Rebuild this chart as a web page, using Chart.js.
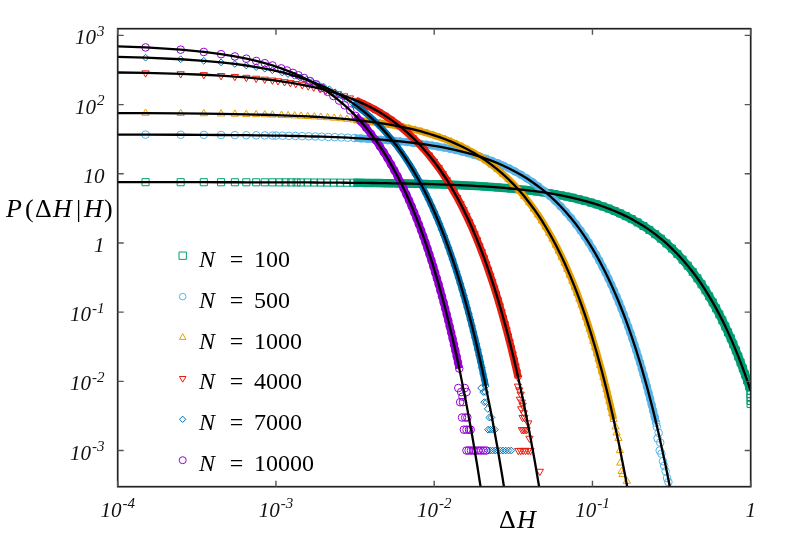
<!DOCTYPE html>
<html>
<head>
<meta charset="utf-8">
<title>P(ΔH|H)</title>
<script src="https://cdn.jsdelivr.net/npm/chart.js@4.4.0/dist/chart.umd.min.js"></script>
<style>
  html, body { margin: 0; padding: 0; background: #fff; overflow: hidden; }
  canvas { display: block; }
</style>
</head>
<body>
<canvas id="chart" width="803" height="540"></canvas>
<script>
// =====================================================
// DATA
// =====================================================
const sizes = [100, 500, 1000, 4000, 7000, 10000];

// N = 100
const dH100 = [1.5e-4, 2.5e-4, 3.5e-4, 4.5e-4, 5.5e-4, 6.5e-4, 7.5e-4, 8.5e-4, 9.5e-4, 1.05e-3, 1.15e-3, 1.25e-3, 1.35e-3,
  0.001439, 0.001583, 0.001741, 0.001914, 0.002101, 0.002317, 0.002547, 0.002806, 0.003079, 0.003396,
  0.003727, 0.004101, 0.004518, 0.004964, 0.005468, 0.006014, 0.006604, 0.007266, 0.008000, 0.008806,
  0.009684, 0.01065, 0.01171, 0.01288, 0.01417, 0.01554, 0.01712, 0.01885, 0.02072, 0.02288,
  0.02518, 0.02763, 0.03036, 0.03338, 0.03669, 0.04043, 0.04446,
  0.04892, 0.05324, 0.05755, 0.06331, 0.06906, 0.07482, 0.08201, 0.08921, 0.09784, 0.1065, 0.1166, 0.1266, 0.1381, 0.1496,
  0.1626, 0.1770, 0.1928, 0.2101, 0.2288, 0.2489, 0.2705, 0.2935, 0.3180, 0.3439, 0.3712, 0.4000, 0.4302, 0.4604,
  0.4892, 0.5180, 0.5468, 0.5755, 0.6043, 0.6331, 0.6619, 0.6906, 0.7194, 0.7482, 0.7770, 0.8058, 0.8345, 0.8633,
  0.8921, 0.9209, 0.9496, 0.9784, 1.0];
const P100 = [7.562, 7.557, 7.552, 7.546, 7.541, 7.536, 7.531, 7.525, 7.520, 7.515, 7.510, 7.504, 7.499,
  7.495, 7.487, 7.479, 7.470, 7.460, 7.449, 7.437, 7.424, 7.410, 7.393,
  7.376, 7.357, 7.336, 7.313, 7.288, 7.260, 7.230, 7.197, 7.161, 7.121,
  7.077, 7.030, 6.978, 6.922, 6.860, 6.795, 6.721, 6.641, 6.555, 6.457,
  6.355, 6.248, 6.130, 6.003, 5.866, 5.716, 5.558,
  5.388, 5.229, 5.074, 4.875, 4.684, 4.501, 4.281, 4.072, 3.835, 3.612, 3.368, 3.140, 2.898, 2.676,
  2.445, 2.213, 1.982, 1.758, 1.544, 1.342, 1.155, 0.984, 0.830, 0.694, 0.574, 0.470, 0.381, 0.309,
  0.253, 0.207, 0.1693, 0.1387, 0.1135, 0.0929, 0.0761, 0.0623, 0.0510, 0.0418, 0.0342, 0.0280, 0.0229, 0.01876,
  0.01536, 0.01258, 0.01030, 0.00843, 0.00727];
const tailDH100 = [0.995, 0.998, 1.0, 0.999];
const tailP100 = [0.0065, 0.0058, 0.0052, 0.0047];
const fitEndDH100 = [];
const fitEndP100 = [];

// N = 500
const dH500 = [1.5e-4, 2.5e-4, 3.5e-4, 4.5e-4, 5.5e-4, 6.5e-4, 7.5e-4, 8.5e-4, 9.5e-4,
  0.001000, 0.001100, 0.001208, 0.001329, 0.001463, 0.001611, 0.001771, 0.001947, 0.002142, 0.002355,
  0.002592, 0.002842, 0.003132, 0.003447, 0.003789, 0.004184, 0.004605, 0.005053, 0.005553, 0.006105,
  0.006711, 0.007395, 0.008132,
  0.008947, 0.009737, 0.01053, 0.01158, 0.01263, 0.01368, 0.01500, 0.01632, 0.01789, 0.01947, 0.02132, 0.02316, 0.02526, 0.02737,
  0.02974, 0.03237, 0.03526, 0.03842, 0.04184, 0.04553, 0.04947, 0.05368, 0.05816, 0.06289, 0.06789, 0.07316, 0.07868, 0.08421,
  0.08947, 0.09474, 0.1000, 0.1053, 0.1105, 0.1158, 0.1211, 0.1263, 0.1316, 0.1368,
  0.1421, 0.1474, 0.1526, 0.1579, 0.1632, 0.1684, 0.1737, 0.1789, 0.1842, 0.1895,
  0.1947, 0.2000, 0.2053, 0.2105, 0.2158, 0.2211, 0.2263, 0.2316, 0.2368, 0.2421, 0.2474, 0.2526];
const P500 = [36.79, 36.65, 36.51, 36.37, 36.23, 36.10, 35.96, 35.82, 35.69,
  35.62, 35.49, 35.34, 35.18, 35.00, 34.80, 34.59, 34.36, 34.11, 33.83,
  33.53, 33.21, 32.85, 32.46, 32.04, 31.56, 31.06, 30.54, 29.96, 29.34,
  28.67, 27.94, 27.16,
  26.34, 25.56, 24.80, 23.83, 22.89, 22.00, 20.92, 19.90, 18.74, 17.65, 16.46, 15.35, 14.17, 13.08,
  11.95, 10.81, 9.69, 8.59, 7.55, 6.56, 5.65, 4.81, 4.06, 3.39, 2.80, 2.30, 1.861, 1.508,
  1.235, 1.011, 0.828, 0.678, 0.555, 0.454, 0.372, 0.304, 0.249, 0.204,
  0.1671, 0.1368, 0.1120, 0.0917, 0.0751, 0.0615, 0.0503, 0.0412, 0.0337, 0.0276,
  0.0226, 0.0185, 0.01516, 0.01241, 0.01016, 0.00832, 0.00681, 0.00558, 0.00457, 0.00374, 0.00306, 0.00251];
const tailDH500 = [0.255, 0.262, 0.258, 0.268, 0.266, 0.273, 0.279, 0.284, 0.290, 0.296, 0.302];
const tailP500 = [0.0022, 0.0018, 0.0015, 0.0013, 0.0010, 0.0009, 0.0007, 0.0006, 0.0005, 0.0004, 0.00035];
const fitEndDH500 = [0.2632, 0.2895, 0.3158];
const fitEndP500 = [1.68e-3, 6.18e-4, 2.27e-4];

// N = 1000
const dH1000 = [1.5e-4, 2.5e-4, 3.5e-4, 4.5e-4, 5.5e-4, 6.5e-4, 7.5e-4, 8.5e-4, 9.5e-4,
  0.001085, 0.001193, 0.001313, 0.001440, 0.001587, 0.001747, 0.001920, 0.002120, 0.002333, 0.002560,
  0.002813, 0.003093, 0.003400, 0.003747, 0.004120,
  0.004533, 0.004933, 0.005333, 0.005867, 0.006400, 0.006933, 0.007600, 0.008267, 0.009067, 0.009867, 0.01080, 0.01173, 0.01280, 0.01387,
  0.01507, 0.01640, 0.01787, 0.01947, 0.02120, 0.02307, 0.02507, 0.02720, 0.02947, 0.03187, 0.03440, 0.03707, 0.03987, 0.04267,
  0.04533, 0.04800, 0.05067, 0.05333, 0.05600, 0.05867, 0.06133, 0.06400, 0.06667, 0.06933,
  0.07200, 0.07467, 0.07733, 0.08000, 0.08267, 0.08533, 0.08800, 0.09067, 0.09333, 0.09600,
  0.09867, 0.1013, 0.1040, 0.1067, 0.1093, 0.1120, 0.1147, 0.1173, 0.1200, 0.1227,
  0.1253, 0.1280, 0.1307, 0.1333, 0.1360];
const P1000 = [75.15, 74.59, 74.03, 73.48, 72.93, 72.38, 71.84, 71.31, 70.77,
  70.06, 69.49, 68.87, 68.22, 67.47, 66.67, 65.81, 64.83, 63.80, 62.72,
  61.54, 60.26, 58.89, 57.38, 55.80,
  54.09, 52.50, 50.94, 48.95, 47.03, 45.18, 42.98, 40.88, 38.50, 36.26, 33.81, 31.52, 29.10, 26.86,
  24.55, 22.21, 19.90, 17.65, 15.50, 13.47, 11.60, 9.88, 8.34, 6.96, 5.76, 4.72, 3.82, 3.10,
  2.54, 2.08, 1.700, 1.392, 1.140, 0.933, 0.764, 0.625, 0.512, 0.419,
  0.343, 0.281, 0.230, 0.1884, 0.1542, 0.1263, 0.1034, 0.0846, 0.0693, 0.0567,
  0.0465, 0.0380, 0.0311, 0.0255, 0.0209, 0.0171, 0.0140, 0.01146, 0.00938, 0.00768,
  0.00629, 0.00515, 0.00421, 0.00345, 0.00282];
const tailDH1000 = [0.140, 0.142, 0.146, 0.149, 0.150, 0.153, 0.155, 0.165];
const tailP1000 = [0.0022, 0.0018, 0.0015, 0.001, 0.00066, 0.0005, 0.00045, 0.00036];
const fitEndDH1000 = [0.1467, 0.1600, 0.1733];
const fitEndP1000 = [1.27e-3, 4.67e-4, 1.72e-4];

// N = 4000
const dH4000 = [1.5e-4, 2.5e-4, 3.5e-4, 4.5e-4, 5.5e-4, 6.5e-4, 7.5e-4, 8.5e-4, 9.5e-4, 0.001030,
  0.001133, 0.001233, 0.001333, 0.001467, 0.001600, 0.001733, 0.001900, 0.002067, 0.002267, 0.002467, 0.002700, 0.002933, 0.003200, 0.003467,
  0.003767, 0.004100, 0.004467, 0.004867, 0.005300, 0.005767, 0.006267, 0.006800, 0.007367, 0.007967, 0.008600, 0.009267, 0.009967, 0.01067,
  0.01133, 0.01200, 0.01267, 0.01333, 0.01400, 0.01467, 0.01533, 0.01600, 0.01667, 0.01733,
  0.01800, 0.01867, 0.01933, 0.02000, 0.02067, 0.02133, 0.02200, 0.02267, 0.02333, 0.02400,
  0.02467, 0.02533, 0.02600, 0.02667, 0.02733, 0.02800, 0.02867, 0.02933, 0.03000, 0.03067,
  0.03133, 0.03200, 0.03267, 0.03333, 0.03400];
const P4000 = [286.8, 278.3, 270.1, 262.1, 254.4, 246.8, 239.6, 232.5, 225.6, 220.3,
  213.5, 207.2, 201.1, 193.2, 185.6, 178.4, 169.7, 161.4, 152.0, 143.1, 133.5, 124.4, 114.9, 106.0,
  96.9, 87.7, 78.6, 69.7, 61.2, 53.2, 45.8, 39.0, 32.9, 27.5, 22.7, 18.6, 15.09, 12.23,
  10.01, 8.20, 6.71, 5.49, 4.50, 3.68, 3.02, 2.47, 2.02, 1.655,
  1.355, 1.109, 0.908, 0.744, 0.609, 0.498, 0.408, 0.334, 0.274, 0.224,
  0.1834, 0.1501, 0.1229, 0.1006, 0.0824, 0.0675, 0.0552, 0.0452, 0.0370, 0.0303,
  0.0248, 0.0203, 0.0166, 0.0136, 0.0112];
const tailDH4000 = [0.0338, 0.0345, 0.0352, 0.0348, 0.0358, 0.0362, 0.0355, 0.0368, 0.0362, 0.0372, 0.0358, 0.0366,
  0.0375, 0.0384, 0.0393, 0.0340, 0.0352, 0.0365, 0.0378, 0.0392, 0.0406, 0.0400, 0.0465];
const tailP4000 = [0.0085, 0.0075, 0.0065, 0.0055, 0.005, 0.0045, 0.004, 0.0035, 0.003, 0.003, 0.002, 0.002,
  0.002, 0.002, 0.0025, 0.001, 0.001, 0.001, 0.001, 0.001, 0.001, 0.0015, 0.0005];
const fitEndDH4000 = [0.03467, 0.03667, 0.04000, 0.04333, 0.04667];
const fitEndP4000 = [0.0091, 5.01e-3, 1.84e-3, 6.78e-4, 2.49e-4];

// N = 7000
const dH7000 = [1.5e-4, 2.5e-4, 3.5e-4, 4.5e-4, 5.5e-4, 6.5e-4, 7.5e-4, 8.5e-4, 9.5e-4,
  0.001096, 0.001192, 0.001308, 0.001423, 0.001558, 0.001692, 0.001846, 0.002000,
  0.002173, 0.002365, 0.002577, 0.002808, 0.003058, 0.003327, 0.003615, 0.003923, 0.004250, 0.004596, 0.004962, 0.005346, 0.005750, 0.006154,
  0.006538, 0.006923, 0.007308, 0.007692, 0.008077, 0.008462, 0.008846, 0.009231, 0.009615, 0.01000,
  0.01038, 0.01077, 0.01115, 0.01154, 0.01192, 0.01231, 0.01269, 0.01308, 0.01346, 0.01385,
  0.01423, 0.01462, 0.01500, 0.01538, 0.01577, 0.01615, 0.01654, 0.01692, 0.01731, 0.01769,
  0.01808, 0.01846, 0.01885, 0.01923, 0.01962, 0.02000, 0.02038, 0.02077, 0.02115];
const P7000 = [476.4, 452.2, 429.3, 407.6, 386.9, 367.3, 348.7, 331.0, 314.2,
  291.2, 277.0, 260.9, 245.7, 229.1, 213.6, 197.2, 182.0,
  166.4, 150.5, 134.9, 119.6, 105.0, 91.3, 78.6, 67.0, 56.5, 47.2, 39.0, 31.9, 25.9, 21.0,
  17.19, 14.07, 11.52, 9.43, 7.72, 6.32, 5.18, 4.24, 3.47, 2.84,
  2.33, 1.904, 1.559, 1.277, 1.045, 0.856, 0.701, 0.574, 0.470, 0.384,
  0.315, 0.258, 0.211, 0.1728, 0.1414, 0.1158, 0.0948, 0.0776, 0.0636, 0.0520,
  0.0426, 0.0349, 0.0286, 0.0234, 0.0191, 0.0157, 0.0128, 0.0105, 0.0086];
const tailDH7000 = [0.0198, 0.0204, 0.0210, 0.0207, 0.0214, 0.0218, 0.0223, 0.0230, 0.0219, 0.0226, 0.0234,
  0.0242, 0.0218, 0.0226, 0.0234, 0.0243, 0.0252, 0.0262, 0.0272, 0.0283, 0.0295, 0.0307];
const tailP7000 = [0.008, 0.007, 0.007, 0.005, 0.005, 0.004, 0.003, 0.003, 0.002, 0.002, 0.002,
  0.002, 0.001, 0.001, 0.001, 0.001, 0.001, 0.001, 0.001, 0.001, 0.001, 0.001];
const fitEndDH7000 = [0.02308, 0.02500, 0.02692, 0.02885];
const fitEndP7000 = [3.16e-3, 1.16e-3, 4.28e-4, 1.58e-4];

// N = 10000
const dH10000 = [1.5e-4, 2.5e-4, 3.5e-4, 4.5e-4, 5.5e-4, 6.5e-4, 7.5e-4, 8.5e-4, 9.5e-4,
  0.001080, 0.001173, 0.001280, 0.001387,
  0.001507, 0.001640, 0.001787, 0.001947, 0.002120, 0.002307, 0.002507, 0.002720, 0.002947, 0.003187, 0.003440, 0.003707, 0.003987, 0.004267,
  0.004533, 0.004800, 0.005067, 0.005333, 0.005600, 0.005867, 0.006133, 0.006400, 0.006667, 0.006933,
  0.007200, 0.007467, 0.007733, 0.008000, 0.008267, 0.008533, 0.008800, 0.009067, 0.009333, 0.009600,
  0.009867, 0.01013, 0.01040, 0.01067, 0.01093, 0.01120, 0.01147, 0.01173, 0.01200, 0.01227,
  0.01253, 0.01280, 0.01307, 0.01333, 0.01360, 0.01387, 0.01413, 0.01440];
const P10000 = [670.2, 621.8, 576.8, 535.2, 496.5, 460.6, 427.3, 396.5, 367.8,
  333.6, 311.1, 287.2, 265.1,
  242.3, 219.2, 196.4, 174.2, 152.9, 133.0, 114.4, 97.5, 82.3, 68.7, 56.8, 46.5, 37.7, 30.6,
  25.0, 20.5, 16.8, 13.7, 11.2, 9.21, 7.54, 6.17, 5.05, 4.14,
  3.39, 2.77, 2.27, 1.86, 1.52, 1.246, 1.020, 0.835, 0.684, 0.560,
  0.458, 0.375, 0.307, 0.252, 0.206, 0.169, 0.138, 0.113, 0.0926, 0.0758,
  0.0620, 0.0508, 0.0416, 0.0341, 0.0279, 0.0228, 0.0187, 0.0153];
const tailDH10000 = [0.0142, 0.0148, 0.0151, 0.0156, 0.0160, 0.0146, 0.0152, 0.0150, 0.0157, 0.0162, 0.0154, 0.0160,
  0.0166, 0.0170, 0.0160, 0.0165, 0.0171, 0.0177, 0.0183, 0.0190, 0.0197, 0.0205, 0.0213];
const tailP10000 = [0.008, 0.007, 0.006, 0.008, 0.007, 0.005, 0.005, 0.003, 0.003, 0.003, 0.002, 0.002,
  0.002, 0.002, 0.001, 0.001, 0.001, 0.001, 0.001, 0.001, 0.001, 0.001, 0.001];
const fitEndDH10000 = [0.01467, 0.01600, 0.01733, 0.01867, 0.02000];
const fitEndP10000 = [0.0125, 4.61e-3, 1.70e-3, 6.24e-4, 2.29e-4];

// fitted curves start at the left edge of the plot
const fitStartDH = 1e-4;
const fitStartP = [7.565, 36.86, 75.4, 291.1, 488.9, 695.8];

// beyond this ΔH the histogram bins are so close that the markers merge into a band
const denseFrom = 3e-3;

// axis ticks
const xTickVals = [1e-4, 1e-3, 1e-2, 1e-1, 1];
const xTickBase = ['10', '10', '10', '10', '1'];
const xTickExp = ['-4', '-3', '-2', '-1', ''];
const yTickVals = [1e-3, 1e-2, 1e-1, 1, 10, 100, 1000];
const yTickBase = ['10', '10', '10', '1', '10', '10', '10'];
const yTickExp = ['-3', '-2', '-1', '', '', '2', '3'];

// =====================================================
// STYLE
// =====================================================
const colors = ['#009e73', '#56b4e9', '#e69f00', '#e51e10', '#0072b2', '#9400d3'];
const shapes = ['rect', 'circle', 'triangle', 'triangle', 'rectRot', 'circle'];
const turns = [0, 0, 0, 180, 0, 0];
const plotRadius = [5.0, 3.8, 4.2, 4.2, 3.4, 3.8];
const bandWidth = [8.5, 7.5, 7, 7.5, 6.5, 7.5];
const keyRadius = [5.2, 3.3, 3.8, 3.8, 3.2, 3.5];
const SERIF = '"Liberation Serif", "Times New Roman", serif';

const series = [
  { dh: dH100, p: P100, tdh: tailDH100, tp: tailP100, edh: fitEndDH100, ep: fitEndP100 },
  { dh: dH500, p: P500, tdh: tailDH500, tp: tailP500, edh: fitEndDH500, ep: fitEndP500 },
  { dh: dH1000, p: P1000, tdh: tailDH1000, tp: tailP1000, edh: fitEndDH1000, ep: fitEndP1000 },
  { dh: dH4000, p: P4000, tdh: tailDH4000, tp: tailP4000, edh: fitEndDH4000, ep: fitEndP4000 },
  { dh: dH7000, p: P7000, tdh: tailDH7000, tp: tailP7000, edh: fitEndDH7000, ep: fitEndP7000 },
  { dh: dH10000, p: P10000, tdh: tailDH10000, tp: tailP10000, edh: fitEndDH10000, ep: fitEndP10000 }
];

function toPoints(xs, ys) {
  return xs.map((x, i) => ({ x: x, y: ys[i] }));
}

// =====================================================
// DATASETS: markers + dense band per series, fits on top
// =====================================================
const datasets = [];
series.forEach((s, i) => {
  datasets.push({
    label: 'N = ' + sizes[i],
    data: toPoints(s.dh.concat(s.tdh), s.p.concat(s.tp)),
    showLine: false,
    pointStyle: shapes[i],
    rotation: turns[i],
    pointRadius: plotRadius[i],
    pointBorderWidth: 1,
    pointBorderColor: colors[i],
    pointBackgroundColor: 'rgba(0,0,0,0)',
    order: 20 - i,
    clip: 0
  });
  // overlapping markers of the dense region
  datasets.push({
    label: 'band ' + sizes[i],
    data: toPoints(s.dh, s.p).filter(pt => pt.x >= denseFrom),
    showLine: true,
    pointRadius: 0,
    borderColor: colors[i],
    borderWidth: bandWidth[i],
    borderCapStyle: 'butt',
    borderJoinStyle: 'round',
    order: 19.5 - i,
    clip: 0
  });
});
series.forEach((s, i) => {
  datasets.push({
    label: 'fit ' + sizes[i],
    data: toPoints([fitStartDH].concat(s.dh, s.edh), [fitStartP[i]].concat(s.p, s.ep)),
    showLine: true,
    pointRadius: 0,
    borderColor: '#000',
    borderWidth: 2.3,
    order: 5 - i,
    clip: 0
  });
});

// =====================================================
// FRAME, TICKS, LABELS, KEY
// =====================================================
function supLabel(ctx, base, exp, x, y, align) {
  const mainFont = 'italic 21px ' + SERIF;
  const supFont = 'italic 15px ' + SERIF;
  ctx.font = mainFont;
  const wb = ctx.measureText(base).width;
  ctx.font = supFont;
  const we = exp ? ctx.measureText(exp).width + 1 : 0;
  const total = wb + we;
  let left = x;
  if (align === 'right') left = x - total;
  if (align === 'center') left = x - total / 2;
  ctx.textAlign = 'left';
  ctx.textBaseline = 'alphabetic';
  ctx.font = mainFont;
  ctx.fillText(base, left, y);
  if (exp) {
    ctx.font = supFont;
    ctx.fillText(exp, left + wb + 1, y - 8.5);
  }
}

function keyMarker(ctx, shape, turn, r, x, y) {
  ctx.beginPath();
  if (shape === 'circle') {
    ctx.arc(x, y, r, 0, Math.PI * 2);
  } else if (shape === 'rect') {
    const h = r * Math.SQRT1_2;
    ctx.rect(x - h, y - h, 2 * h, 2 * h);
  } else if (shape === 'rectRot') {
    ctx.moveTo(x, y - r); ctx.lineTo(x + r, y); ctx.lineTo(x, y + r); ctx.lineTo(x - r, y); ctx.closePath();
  } else {
    const s = turn ? -1 : 1;
    ctx.moveTo(x, y - s * r);
    ctx.lineTo(x + r * 0.866, y + s * r * 0.5);
    ctx.lineTo(x - r * 0.866, y + s * r * 0.5);
    ctx.closePath();
  }
  ctx.stroke();
}

const decorations = {
  id: 'decorations',
  afterDraw(chart) {
    const { ctx, chartArea: a } = chart;
    const xs = chart.scales.x;
    const ys = chart.scales.y;
    ctx.save();

    // frame
    ctx.strokeStyle = '#222';
    ctx.lineWidth = 1.7;
    ctx.strokeRect(a.left, a.top, a.right - a.left, a.bottom - a.top);

    // inward ticks on all four sides
    ctx.strokeStyle = '#555';
    ctx.lineWidth = 1.4;
    ctx.beginPath();
    xTickVals.forEach(v => {
      const px = xs.getPixelForValue(v);
      ctx.moveTo(px, a.bottom); ctx.lineTo(px, a.bottom - 6);
      ctx.moveTo(px, a.top); ctx.lineTo(px, a.top + 6);
    });
    yTickVals.forEach(v => {
      const py = ys.getPixelForValue(v);
      ctx.moveTo(a.left, py); ctx.lineTo(a.left + 6, py);
      ctx.moveTo(a.right, py); ctx.lineTo(a.right - 6, py);
    });
    ctx.stroke();

    // tick labels
    ctx.fillStyle = '#111';
    xTickVals.forEach((v, i) => {
      supLabel(ctx, xTickBase[i], xTickExp[i], xs.getPixelForValue(v), 516.5, 'center');
    });
    yTickVals.forEach((v, i) => {
      supLabel(ctx, yTickBase[i], yTickExp[i], 104.5, ys.getPixelForValue(v) + 9, 'right');
    });

    // axis titles
    ctx.fillStyle = '#000';
    ctx.textAlign = 'left';
    const up = '26px ' + SERIF;
    const it = 'italic 26px ' + SERIF;
    [['P', it, 6], ['(', up, 25], ['Δ', up, 35], ['H', it, 53], ['|', up, 76], ['H', it, 84], [')', up, 104]]
      .forEach(([t, f, x]) => { ctx.font = f; ctx.fillText(t, x, 217); });
    [['Δ', up, 499], ['H', it, 517]]
      .forEach(([t, f, x]) => { ctx.font = f; ctx.fillText(t, x, 528); });

    // key
    sizes.forEach((n, i) => {
      const cy = 255.7 + i * 40.9;
      ctx.strokeStyle = colors[i];
      ctx.lineWidth = 1;
      keyMarker(ctx, shapes[i], turns[i], keyRadius[i], 182.7, cy);
      ctx.fillStyle = '#000';
      ctx.textAlign = 'left';
      ctx.font = 'italic 24px ' + SERIF;
      ctx.fillText('N', 199, cy + 11);
      ctx.font = '24px ' + SERIF;
      ctx.textAlign = 'center';
      ctx.fillText('=', 236.5, cy + 11);
      ctx.textAlign = 'left';
      ctx.fillText(String(n), 254, cy + 11);
    });

    ctx.restore();
  }
};

// =====================================================
// CHART
// =====================================================
new Chart(document.getElementById('chart'), {
  type: 'scatter',
  data: { datasets: datasets },
  options: {
    responsive: false,
    devicePixelRatio: 1,
    animation: false,
    events: [],
    layout: { padding: { left: 117.7, right: 52.3, top: 28.7, bottom: 53.3 } },
    plugins: {
      legend: { display: false },
      tooltip: { enabled: false }
    },
    scales: {
      x: { type: 'logarithmic', min: 1e-4, max: 1, display: false },
      y: { type: 'logarithmic', min: 3.2e-4, max: 1250, display: false }
    }
  },
  plugins: [decorations]
});
</script>
</body>
</html>
